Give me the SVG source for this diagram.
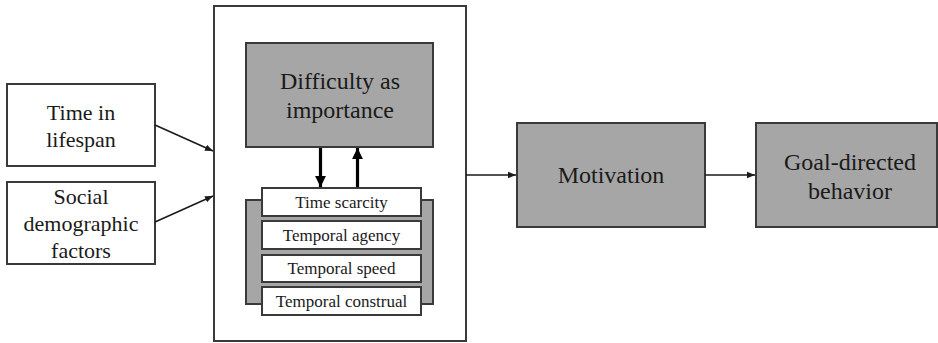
<svg xmlns="http://www.w3.org/2000/svg" width="938" height="343" viewBox="0 0 938 343">
<defs>
<style>
.box{stroke:#3a3a3a;stroke-width:2}
.white{fill:#ffffff}
.gray{fill:#a6a6a6}
.lbl{fill:#1a1a1a;text-anchor:middle;font-family:"Liberation Serif","Times New Roman",serif}
.conn{stroke:#1a1a1a;stroke-width:1.6;fill:none}
.thick{stroke:#000;stroke-width:3.2;fill:none}
</style>
<marker id="ah" viewBox="0 0 10 10" refX="10" refY="5" markerWidth="5" markerHeight="5" markerUnits="strokeWidth" orient="auto">
<path d="M0,1 L10,5 L0,9 z" fill="#1a1a1a"/>
</marker>
<marker id="ahb" viewBox="0 0 10 10" refX="10" refY="5" markerWidth="3.6" markerHeight="3.4" markerUnits="strokeWidth" orient="auto">
<path d="M0,0 L10,5 L0,10 z" fill="#000"/>
</marker>
</defs>
<rect width="938" height="343" fill="#ffffff"/>

<g id="outer">
<rect class="box white" x="214" y="6" width="252" height="335"/>
</g>

<g id="time-in-lifespan">
<rect class="box white" x="7" y="84" width="148" height="82"/>
<text class="lbl" font-size="22" x="81" y="120">Time in</text>
<text class="lbl" font-size="22" x="81" y="147">lifespan</text>
</g>

<g id="social-demographic">
<rect class="box white" x="7" y="182" width="148" height="82"/>
<text class="lbl" font-size="22" x="81" y="204">Social</text>
<text class="lbl" font-size="22" x="81" y="231">demographic</text>
<text class="lbl" font-size="22" x="81" y="258">factors</text>
</g>

<g id="difficulty">
<rect class="box gray" x="246" y="43" width="187" height="104"/>
<text class="lbl" font-size="24" x="340" y="89">Difficulty as</text>
<text class="lbl" font-size="24" x="340" y="118">importance</text>
</g>

<g id="temporal-group">
<rect class="box gray" x="246" y="200" width="187" height="104"/>
</g>

<g id="time-scarcity">
<rect class="box white" x="262" y="188" width="159" height="28"/>
<text class="lbl" font-size="17" x="341.5" y="208">Time scarcity</text>
</g>
<g id="temporal-agency">
<rect class="box white" x="262" y="221" width="159" height="28"/>
<text class="lbl" font-size="17" x="341.5" y="241">Temporal agency</text>
</g>
<g id="temporal-speed">
<rect class="box white" x="262" y="255" width="159" height="27"/>
<text class="lbl" font-size="17" x="341.5" y="274">Temporal speed</text>
</g>
<g id="temporal-construal">
<rect class="box white" x="262" y="287" width="159" height="28"/>
<text class="lbl" font-size="17" x="341.5" y="307">Temporal construal</text>
</g>

<g id="motivation">
<rect class="box gray" x="517" y="123" width="188" height="104"/>
<text class="lbl" font-size="24" x="611" y="183">Motivation</text>
</g>

<g id="goal-directed">
<rect class="box gray" x="756" y="123" width="181" height="104"/>
<text class="lbl" font-size="24" x="850" y="170">Goal-directed</text>
<text class="lbl" font-size="24" x="850" y="199">behavior</text>
</g>

<g id="connectors">
<line class="conn" x1="155" y1="125" x2="213" y2="151" marker-end="url(#ah)"/>
<line class="conn" x1="155" y1="222" x2="213" y2="196" marker-end="url(#ah)"/>
<line class="conn" x1="466" y1="175" x2="516" y2="175" marker-end="url(#ah)"/>
<line class="conn" x1="705" y1="175" x2="755" y2="175" marker-end="url(#ah)"/>
<line class="thick" x1="320.5" y1="148" x2="320.5" y2="187" marker-end="url(#ahb)"/>
<line class="thick" x1="357.5" y1="187" x2="357.5" y2="148" marker-end="url(#ahb)"/>
</g>
</svg>
